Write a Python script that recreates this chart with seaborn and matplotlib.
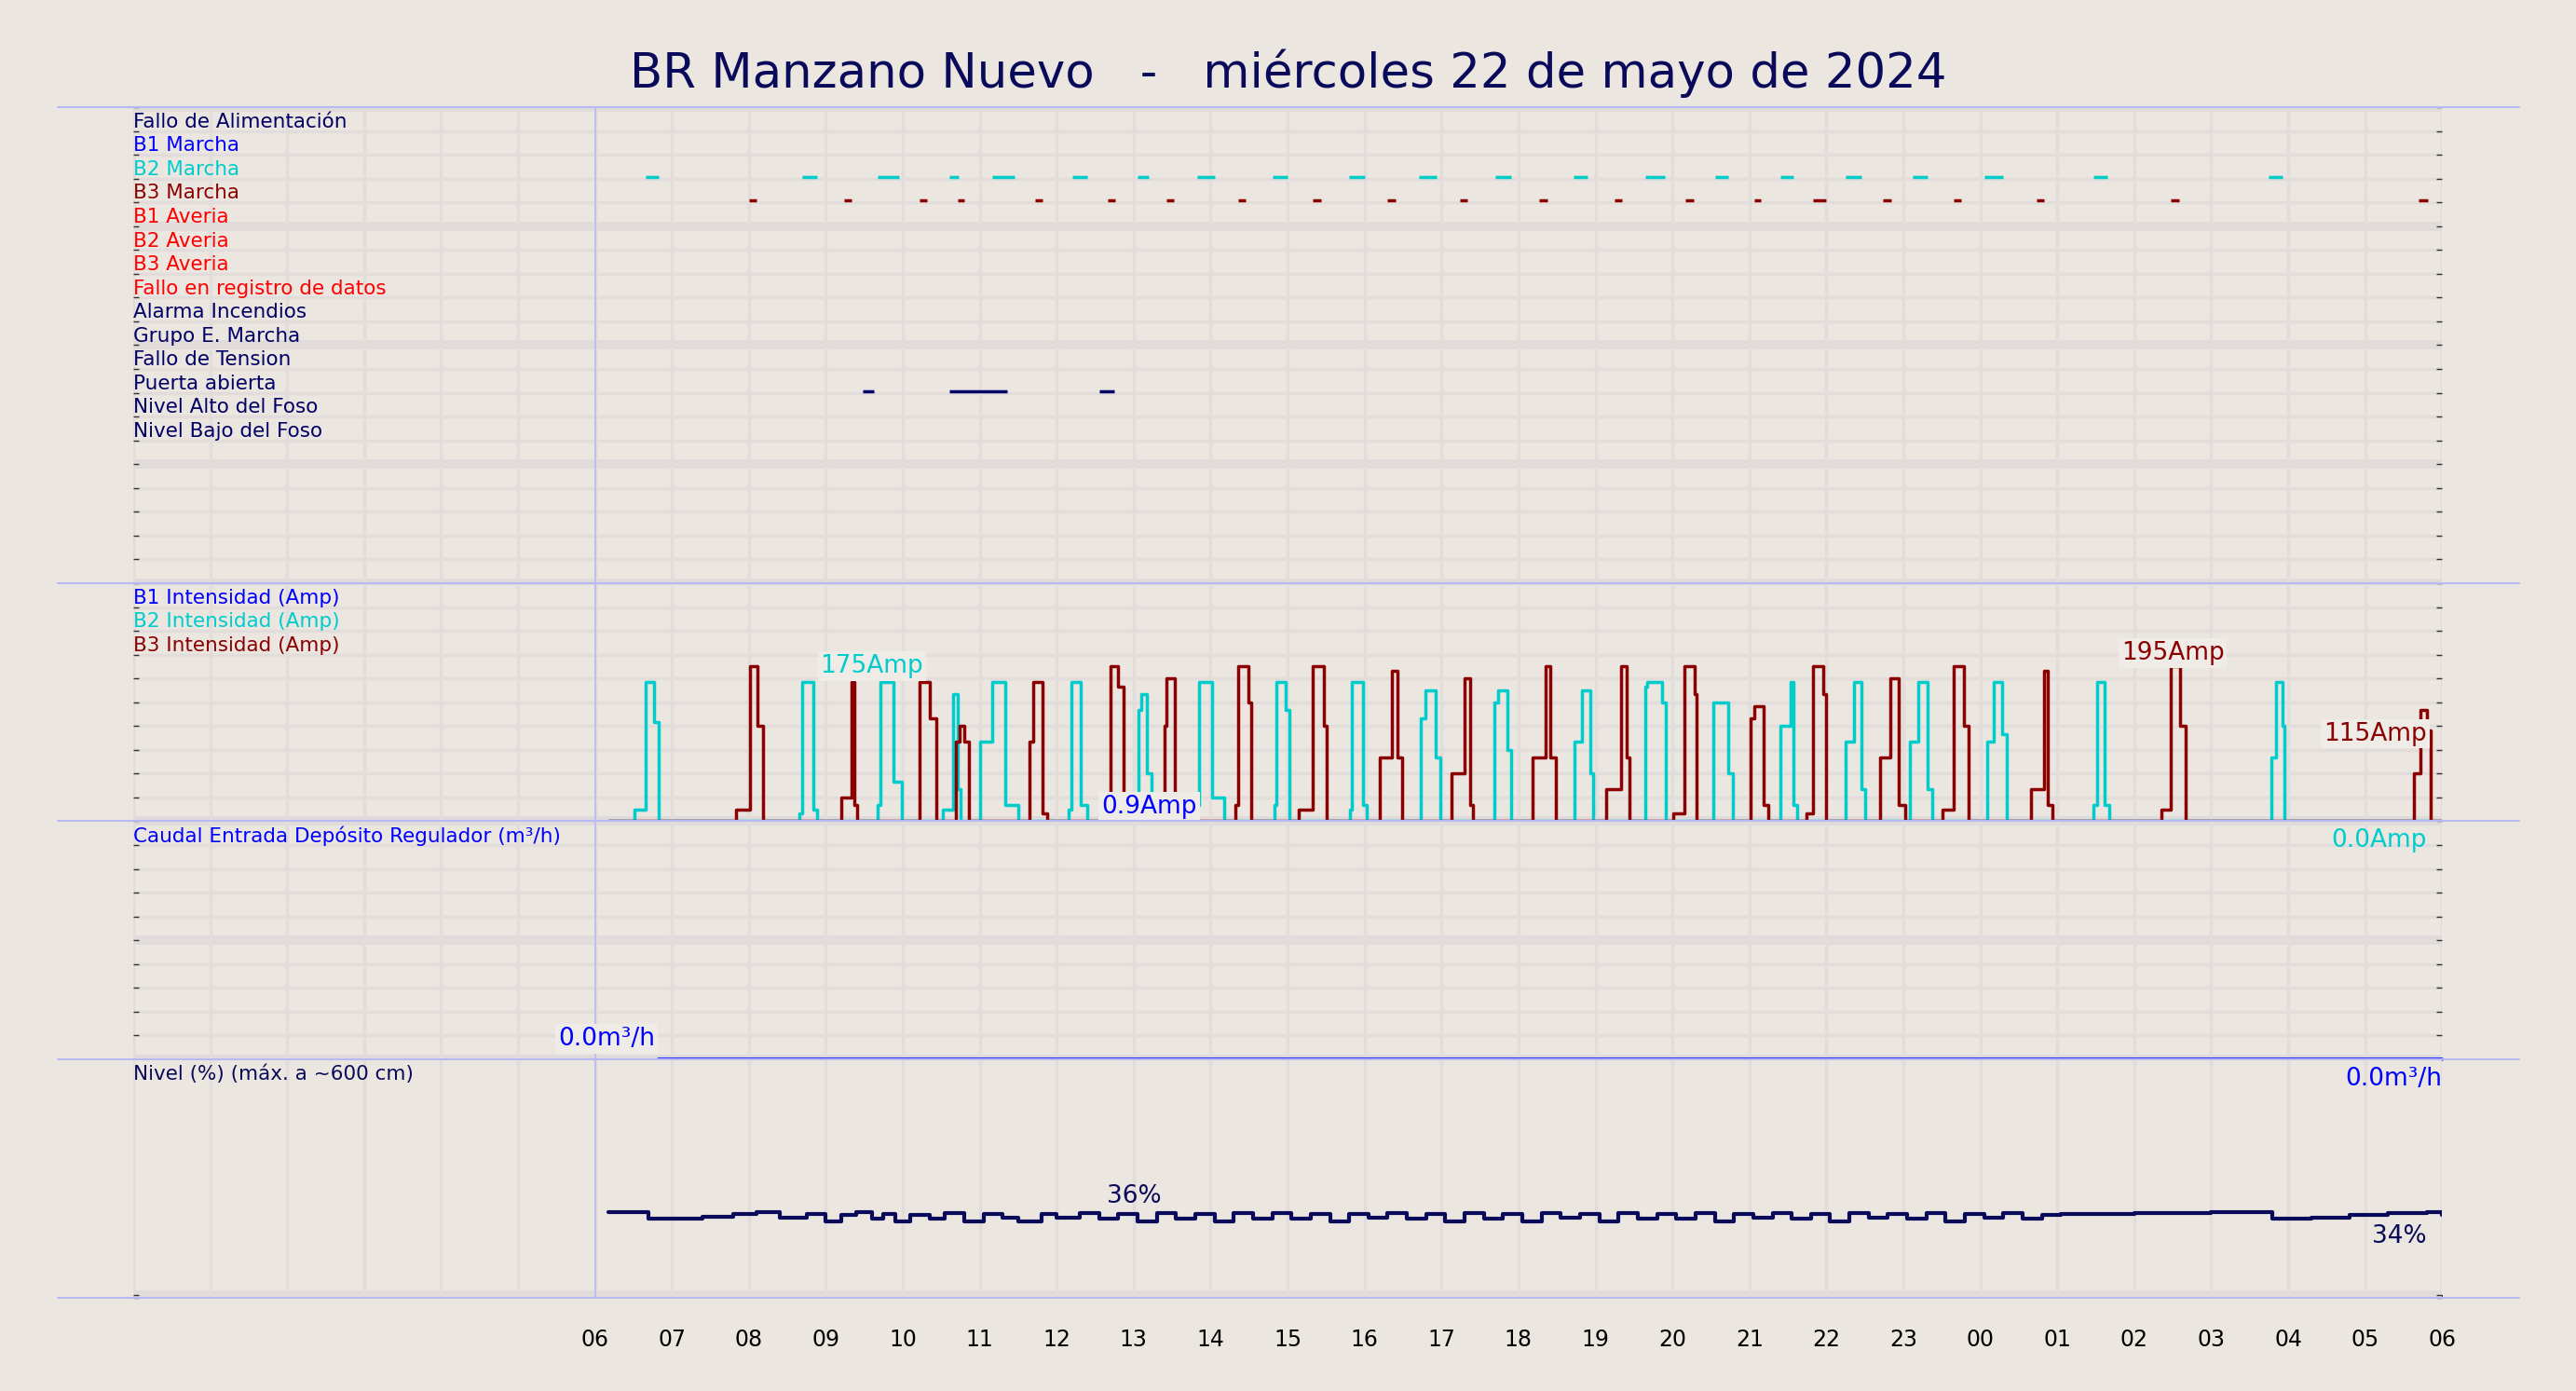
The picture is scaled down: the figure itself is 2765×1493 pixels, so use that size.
import matplotlib
matplotlib.use("Agg")
import matplotlib.pyplot as plt
import seaborn as sns
import numpy as np
import pandas as pd
from matplotlib.lines import Line2D

# Horas desde las 06:00 del 22/05/2024
hour_labels = ["06", "07", "08", "09", "10", "11", "12", "13", "14", "15", "16", "17", "18",
               "19", "20", "21", "22", "23", "00", "01", "02", "03", "04", "05", "06"]

digital_labels = ["Fallo de Alimentación", "B1 Marcha", "B2 Marcha", "B3 Marcha", "B1 Averia",
                  "B2 Averia", "B3 Averia", "Fallo en registro de datos", "Alarma Incendios",
                  "Grupo E. Marcha", "Fallo de Tension", "Puerta abierta", "Nivel Alto del Foso",
                  "Nivel Bajo del Foso"]
digital_colors = ["#000066", "#0000ff", "#00cccc", "#8b0000", "#ff0000", "#ff0000", "#ff0000",
                  "#ff0000", "#000066", "#000066", "#000066", "#000066", "#000066", "#000066"]

# eventos (inicio, fin) en horas
b2_marcha = [(0.66, 0.83), (2.69, 2.88), (3.67, 3.95), (4.6, 4.72), (5.16, 5.45), (6.2, 6.4),
             (7.05, 7.2), (7.83, 8.05), (8.8, 9.0), (9.8, 10.0), (10.7, 10.93), (11.7, 11.9),
             (12.72, 12.9), (13.65, 13.9), (14.55, 14.73), (15.4, 15.57), (16.25, 16.45),
             (17.12, 17.32), (18.05, 18.3), (19.47, 19.65), (21.75, 21.93)]
b3_marcha = [(2.0, 2.1), (3.24, 3.33), (4.22, 4.32), (4.71, 4.8), (5.72, 5.82), (6.66, 6.76),
             (7.42, 7.52), (8.36, 8.46), (9.33, 9.43), (10.3, 10.4), (11.24, 11.34), (12.27, 12.38),
             (13.25, 13.35), (14.17, 14.28), (15.06, 15.15), (15.83, 16.0), (16.73, 16.84),
             (17.65, 17.75), (18.73, 18.83), (20.48, 20.58), (23.7, 23.82)]
puerta = [(3.48, 3.62), (4.6, 5.35), (6.55, 6.75)]

# pulsos de intensidad: (t_sube, t_pico, t_medio, t_fin, bajo, pico, medio)
b2_pulses = [(0.51, 0.66, 0.77, 0.83, 15, 175, 125), (2.65, 2.69, 2.84, 2.88, 10, 175, 15),
             (3.67, 3.71, 3.88, 3.99, 20, 175, 50), (4.52, 4.65, 4.71, 4.75, 15, 160, 40),
             (5.01, 5.16, 5.33, 5.50, 100, 175, 20), (6.16, 6.19, 6.31, 6.40, 15, 175, 20),
             (7.06, 7.10, 7.17, 7.23, 140, 160, 60), (7.83, 7.85, 8.02, 8.17, 20, 175, 30),
             (8.83, 8.85, 8.98, 9.02, 20, 175, 140), (9.81, 9.83, 9.98, 10.03, 15, 175, 20),
             (10.73, 10.79, 10.92, 10.99, 130, 165, 80), (11.69, 11.73, 11.86, 11.90, 150, 165, 90),
             (12.73, 12.82, 12.93, 12.97, 100, 165, 60), (13.65, 13.67, 13.86, 13.91, 170, 175, 150),
             (14.53, 14.57, 14.72, 14.78, 150, 150, 60), (15.40, 15.53, 15.57, 15.62, 120, 175, 20),
             (16.25, 16.36, 16.45, 16.51, 100, 175, 40), (17.09, 17.19, 17.32, 17.38, 100, 175, 40),
             (18.09, 18.17, 18.28, 18.34, 100, 175, 110), (19.47, 19.52, 19.62, 19.67, 20, 175, 20),
             (21.78, 21.84, 21.93, 21.95, 80, 175, 120)]
b3_pulses = [(1.83, 2.01, 2.11, 2.18, 15, 195, 120), (3.20, 3.33, 3.37, 3.41, 30, 175, 20),
             (4.18, 4.22, 4.35, 4.44, 0, 175, 130), (4.69, 4.74, 4.80, 4.86, 100, 120, 100),
             (5.65, 5.70, 5.82, 5.87, 100, 175, 10), (6.66, 6.70, 6.80, 6.87, 20, 195, 170),
             (7.40, 7.42, 7.53, 7.57, 120, 180, 20), (8.32, 8.36, 8.49, 8.53, 20, 195, 150),
             (9.15, 9.32, 9.47, 9.51, 15, 195, 120), (10.20, 10.35, 10.43, 10.49, 80, 190, 80),
             (11.13, 11.30, 11.37, 11.41, 60, 180, 20), (12.18, 12.35, 12.41, 12.48, 80, 195, 80),
             (13.14, 13.33, 13.40, 13.44, 40, 195, 80), (14.01, 14.16, 14.29, 14.31, 10, 195, 160),
             (15.02, 15.06, 15.19, 15.25, 130, 145, 20), (15.74, 15.83, 15.96, 16.00, 10, 195, 160),
             (16.70, 16.83, 16.94, 17.02, 80, 180, 20), (17.51, 17.66, 17.79, 17.85, 15, 195, 120),
             (18.66, 18.83, 18.88, 18.94, 40, 190, 20), (20.35, 20.48, 20.60, 20.67, 15, 195, 120),
             (23.63, 23.72, 23.80, 23.85, 60, 140, 115)]
amp_start, amp_end = 0.17, 24.0

# nivel (%) cada 15 min aprox.
level_t = [0.17, 0.7, 1.4, 1.8, 2.1, 2.4, 2.75, 3.0, 3.2, 3.4, 3.6, 3.75, 3.9, 4.1, 4.35, 4.55, 4.8,
           5.05, 5.3, 5.5, 5.8, 6.0, 6.3, 6.55, 6.8, 7.05, 7.3, 7.55, 7.8, 8.05, 8.3, 8.55, 8.8,
           9.05, 9.3, 9.55, 9.8, 10.05, 10.3, 10.55, 10.8, 11.05, 11.3, 11.55, 11.8, 12.05, 12.3,
           12.55, 12.8, 13.05, 13.3, 13.55, 13.8, 14.05, 14.3, 14.55, 14.8, 15.05, 15.3, 15.55,
           15.8, 16.05, 16.3, 16.55, 16.8, 17.05, 17.3, 17.55, 17.8, 18.05, 18.3, 18.55, 18.8,
           19.05, 19.5, 20.0, 20.5, 21.0, 21.5, 21.8, 22.3, 22.8, 23.3, 23.8, 24.0]
level_v = [36.0, 33.0, 34.0, 35.0, 36.0, 33.5, 35.0, 32.0, 34.5, 36.0, 33.0, 35.0, 32.0, 34.5,
           33.0, 35.5, 32.0, 35.0, 33.5, 32.0, 35.0, 33.5, 35.5, 33.0, 35.0, 32.0, 35.5, 33.0,
           35.0, 32.0, 35.5, 33.0, 35.5, 33.0, 35.0, 32.0, 35.0, 33.5, 35.5, 33.0, 35.0, 32.0,
           35.5, 33.0, 35.0, 32.0, 35.5, 33.5, 35.0, 32.0, 35.5, 33.0, 35.0, 33.0, 35.5, 32.0,
           35.0, 33.5, 35.5, 33.0, 35.0, 32.0, 35.5, 33.5, 35.0, 33.0, 35.5, 32.0, 35.0, 33.5,
           35.5, 33.0, 34.5, 35.0, 35.0, 35.5, 35.5, 36.0, 36.0, 33.0, 33.5, 34.5, 35.5, 36.0, 34.5]

flow_t = [0.83, 24.0]
flow_v = [0.0, 0.0]

BG = "#ebe6e0"
NAVY = "#0a0a5a"


def pulse_series(pulses):
    t, v = [amp_start], [0]
    for a, b, c, d, lo, pk, md in pulses:
        t += [a, b, c, d]
        v += [lo, pk, md, 0]
    t.append(amp_end)
    v.append(0)
    return pd.DataFrame({"t": t, "v": v})


sns.set_theme(style="white")
plt.rcParams["font.family"] = ["DejaVu Sans"]
fig = plt.figure(figsize=(27.65, 14.93), dpi=100, facecolor=BG)
gs = fig.add_gridspec(4, 1, height_ratios=[20, 10, 10, 10], hspace=0,
                      left=0.0517, right=0.948, top=0.923, bottom=0.0673)
axes = [fig.add_subplot(gs[i]) for i in range(4)]
nrows = [20, 10, 10, 10]

for ax, n in zip(axes, nrows):
    ax.set_facecolor(BG)
    ax.set_xlim(-6, 24)
    ax.set_xticks(np.arange(-6, 25, 1))
    ax.set_xticklabels([])
    ax.set_yticks(np.arange(0, n + 1) * 1.0 / n)
    ax.set_yticklabels([])
    ax.grid(True, color="#e2dddb", linewidth=2.5)
    for k in range(0, n + 1, 5):
        ax.axhline(k / n, color="#e0dbda", linewidth=7, zorder=0)
    ax.tick_params(axis="y", left=True, right=True, length=4, width=1, color="#333333", direction="in")
    ax.tick_params(axis="x", bottom=False)
    for s in ax.spines.values():
        s.set_visible(False)
    ax.axvline(0, color="#b8b8f4", linewidth=1.2, zorder=1)

# panel digital
ax = axes[0]
ax.set_ylim(1, 0)
row = 1 / 20
for i, (lab, col) in enumerate(zip(digital_labels, digital_colors)):
    ax.text(-6, (i + 0.62) * row, lab, color=col, fontsize=15.5, va="center", ha="left")
for i, ev, col in [(2, b2_marcha, "#00cccc"), (3, b3_marcha, "#8b0000"), (11, puerta, "#000066")]:
    for a, b in ev:
        ax.plot([a, b], [(i + 0.92) * row] * 2, color=col, linewidth=2.5, solid_capstyle="butt")

# panel intensidad
ax = axes[1]
ax.set_yticks(np.arange(0, 11) * 30)
ax.set_ylim(0, 300)
b1 = pd.DataFrame({"t": [amp_start, amp_end], "v": [0.9, 0.9]})
sns.lineplot(data=b1, x="t", y="v", ax=ax, color="#0000ff", linewidth=2, estimator=None)
sns.lineplot(data=pulse_series(b2_pulses), x="t", y="v", ax=ax, color="#00cccc", linewidth=2.5,
             drawstyle="steps-post", estimator=None, sort=False)
sns.lineplot(data=pulse_series(b3_pulses), x="t", y="v", ax=ax, color="#8b0000", linewidth=2.5,
             drawstyle="steps-post", estimator=None, sort=False)
for i, (lab, col) in enumerate([("B1 Intensidad (Amp)", "#0000ff"), ("B2 Intensidad (Amp)", "#00cccc"),
                                ("B3 Intensidad (Amp)", "#8b0000")]):
    ax.text(-6, 300 - (i + 0.62) * 30, lab, color=col, fontsize=15.5, va="center")
box = dict(facecolor="#efebe7", edgecolor="none", pad=2)
ax.text(3.6, 180, "175Amp", color="#00cccc", fontsize=19, ha="center", va="bottom", bbox=box)
ax.text(7.2, 18, "0.9Amp", color="#0000ff", fontsize=19, ha="center", va="center", bbox=box)
ax.text(20.5, 197, "195Amp", color="#8b0000", fontsize=19, ha="center", va="bottom", bbox=box)
ax.text(23.8, 95, "115Amp", color="#8b0000", fontsize=19, ha="right", va="bottom", bbox=box)

# panel caudal
ax = axes[2]
ax.set_ylim(0, 1)
sns.lineplot(data=pd.DataFrame({"t": flow_t, "v": flow_v}), x="t", y="v", ax=ax,
             color="#3333ff", linewidth=3, estimator=None)
for ln in ax.lines[-1:]:
    ln.set_clip_on(False)
    ln.set_zorder(5)
ax.text(-6, 1 - 0.62 / 10, "Caudal Entrada Depósito Regulador (m³/h)", color="#0000ff",
        fontsize=15.5, va="center")
ax.text(0.15, 0.035, "0.0m³/h", color="#0000ff", fontsize=19, ha="center", va="bottom", bbox=box)
ax.text(23.8, 0.97, "0.0Amp", color="#00cccc", fontsize=19, ha="right", va="top")

# panel nivel
ax = axes[3]
ax.set_ylim(0, 100)
sns.lineplot(data=pd.DataFrame({"t": level_t, "v": level_v}), x="t", y="v", ax=ax,
             color=NAVY, linewidth=3, drawstyle="steps-post", estimator=None, sort=False)
ax.text(-6, 100 - 6.2, "Nivel (%) (máx. a ~600 cm)", color=NAVY, fontsize=15.5, va="center")
ax.text(7.0, 37.5, "36%", color=NAVY, fontsize=19, ha="center", va="bottom")
ax.text(23.8, 20.5, "34%", color=NAVY, fontsize=19, ha="right", va="bottom")
ax.text(24, 97, "0.0m³/h", color="#0000ff", fontsize=19, ha="right", va="top")
ax.set_xticklabels([""] * 6 + hour_labels, fontsize=17, color="black")
ax.tick_params(axis="x", pad=18)

for ax in axes:
    ax.set_xlabel("")
    ax.set_ylabel("")

# separadores de panel
for y in [0.923, 0.923 - 0.8556 * 0.4, 0.923 - 0.8556 * 0.6, 0.923 - 0.8556 * 0.8, 0.0673]:
    fig.add_artist(Line2D([0.0223, 0.978], [y, y], color="#b8b8f4", linewidth=1.5, transform=fig.transFigure))

fig.suptitle("BR Manzano Nuevo   -   miércoles 22 de mayo de 2024", fontsize=37, color=NAVY, y=0.965)
fig.savefig("out.png", dpi=100, facecolor=BG)
